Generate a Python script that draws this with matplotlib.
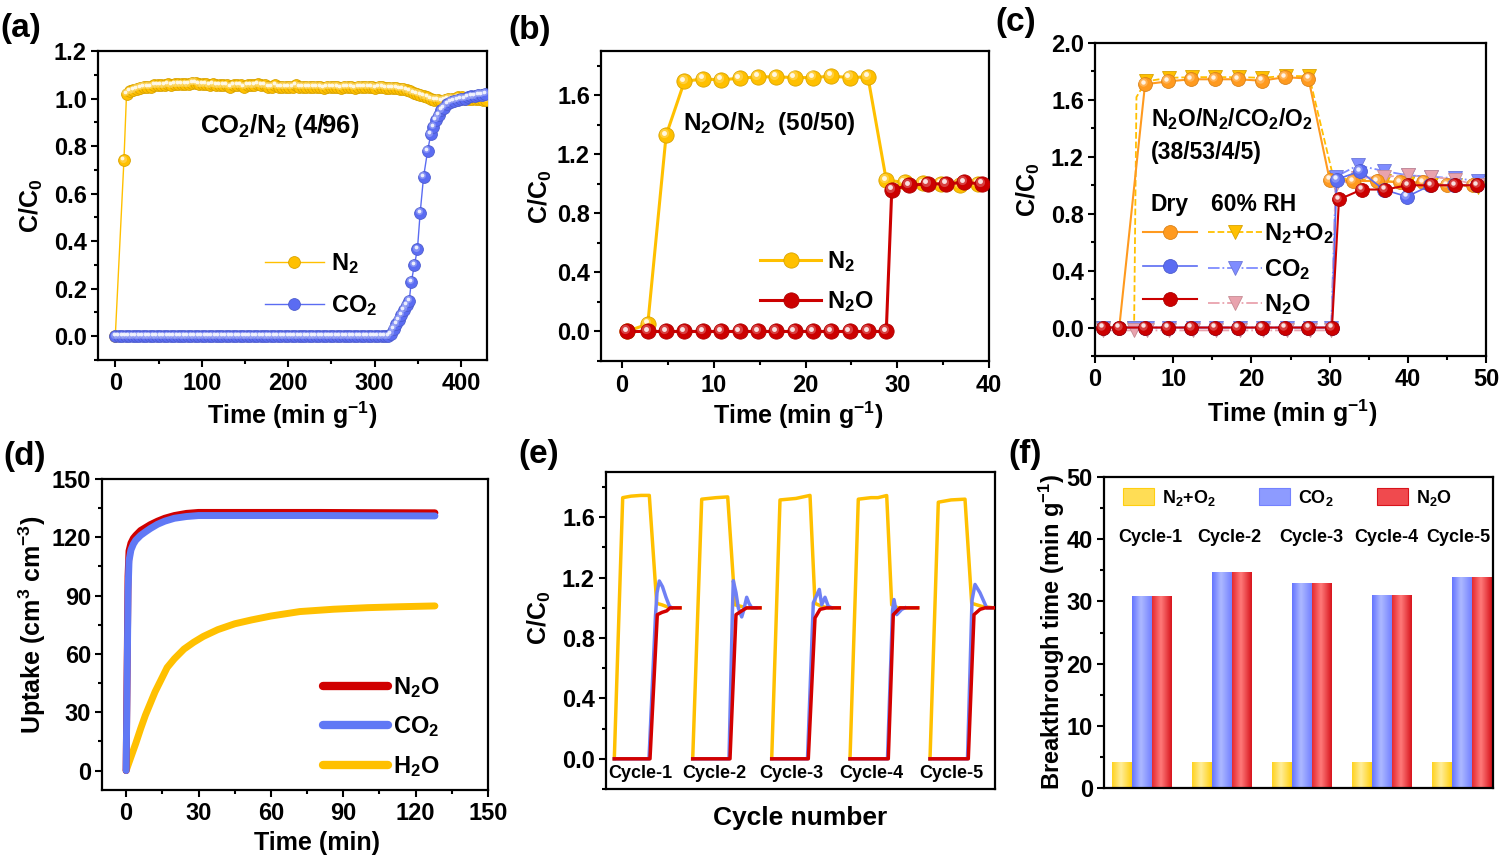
import numpy as np
import matplotlib
matplotlib.use('Agg')
import matplotlib.pyplot as plt
from matplotlib.colors import LinearSegmentedColormap, to_rgb
from matplotlib.transforms import offset_copy
from matplotlib.ticker import MultipleLocator, FormatStrFormatter
from matplotlib.patches import Patch

plt.rcParams.update({
    'font.family': ['Liberation Sans', 'DejaVu Sans'],
    'font.weight': 'bold',
    'axes.labelweight': 'bold',
    'mathtext.fontset': 'custom',
    'mathtext.rm': 'Liberation Sans:bold',
    'mathtext.bf': 'Liberation Sans:bold',
    'mathtext.it': 'Liberation Sans:bold:italic',
    'mathtext.sf': 'Liberation Sans:bold',
    'mathtext.default': 'rm',
    'axes.linewidth': 1.6,
})
nan = np.nan

# ---------------- data ----------------
# (a) CO2/N2 breakthrough
a_n2_t = [0, 10] + list(range(13, 430, 4))
a_n2 = [0.0, 0.74,
        1.02, 1.03, 1.035, 1.04, 1.045, 1.05, 1.05, 1.05, 1.055, 1.055,
        1.055, 1.055, 1.06, 1.055, 1.06, 1.06, 1.06, 1.06, 1.06, 1.065,
        1.065, 1.06, 1.06, 1.06, 1.055, 1.06, 1.055, 1.055, 1.055, 1.055,
        1.05, 1.055, 1.055, 1.055, 1.05, 1.055, 1.055, 1.055, 1.06, 1.055,
        1.055, 1.05, 1.05, 1.055, 1.05, 1.05, 1.05, 1.05, 1.05, 1.055,
        1.05, 1.05, 1.05, 1.05, 1.05, 1.05, 1.05, 1.045, 1.05, 1.05,
        1.05, 1.05, 1.045, 1.05, 1.05, 1.05, 1.045, 1.05, 1.05, 1.05,
        1.05, 1.05, 1.045, 1.05, 1.05, 1.045, 1.045, 1.045, 1.045, 1.04,
        1.04, 1.035, 1.03, 1.025, 1.02, 1.015, 1.01, 1.005, 1.0, 0.995,
        0.995, 0.99, 0.995, 1.0, 1.0, 1.0, 1.005, 1.005, 1.0, 1.0,
        1.0, 1.0, 1.0, 0.995, 0.995]
a_co2_t = list(range(0, 316, 4)) + [316, 319, 322, 325, 328, 331, 334, 337, 340, 342.5,
                                    346, 349.5, 352.7, 356.6, 361.3, 365, 368, 371, 374, 377,
                                    380, 384, 388, 392, 396, 400, 404, 408, 412, 416,
                                    420, 424, 428]
a_co2 = [0.0] * 79 + [0.0, 0.01, 0.03, 0.05, 0.07, 0.09, 0.11, 0.13, 0.15, 0.23,
                      0.30, 0.365, 0.52, 0.67, 0.78, 0.85, 0.88, 0.91, 0.93, 0.95,
                      0.96, 0.975, 0.985, 0.99, 0.995, 1.0, 1.0, 1.005, 1.01, 1.01,
                      1.015, 1.015, 1.02]

# (b) N2O/N2 breakthrough
b_n2_t = [0.5, 2.8, 4.8, 6.8, 8.8, 10.8, 12.8, 14.8, 16.8, 18.8, 20.8, 22.8, 24.8, 26.8,
          28.8, 30.8, 32.8, 34.8, 36.8, 38.8]
b_n2 = [0.0, 0.05, 1.33, 1.695, 1.71, 1.705, 1.715, 1.725, 1.725, 1.72, 1.72, 1.73, 1.72,
        1.725, 1.025, 1.01, 1.005, 1.0, 0.99, 1.0]
b_n2o_t = [0.5, 2.8, 4.8, 6.8, 8.8, 10.8, 12.8, 14.8, 16.8, 18.8, 20.8, 22.8, 24.8, 26.8,
           28.8, 29.4, 31.3, 33.3, 35.3, 37.3, 39.2]
b_n2o = [0.0] * 15 + [0.96, 0.99, 1.0, 1.0, 1.01, 1.0]

# (c) N2O/N2/CO2/O2 dry and 60% RH
c_n2o2_dry_t = [1.0, 3.1, 6.4, 9.3, 12.3, 15.3, 18.3, 21.3, 24.3, 27.3, 30.0, 33.0, 36.1,
                39.0, 42.0, 45.0, 48.3]
c_n2o2_dry = [0, 0, 1.71, 1.73, 1.745, 1.745, 1.745, 1.735, 1.76, 1.75, 1.04, 1.03, 1.03,
              1.02, 1.02, 1.0, 1.0]
c_co2_dry_t = [1.0, 3.1, 6.4, 9.3, 12.3, 15.3, 18.3, 21.3, 24.3, 27.3, 30.3, 30.9, 33.9,
               36.9, 39.9, 42.9, 45.9, 48.9]
c_co2_dry = [0] * 11 + [1.04, 1.10, 0.97, 0.92, 1.0, 1.0, 1.0]
c_n2o_dry_t = [1.0, 3.1, 6.4, 9.3, 12.3, 15.3, 18.3, 21.3, 24.3, 27.3, 30.3, 31.2, 34.1,
               37.1, 40.0, 43.0, 46.0, 48.9]
c_n2o_dry = [0] * 11 + [0.90, 0.97, 0.97, 1.0, 1.0, 1.0, 1.0]
c_n2o2_wet_t = [1.0, 5.0, 5.3, 6.5, 9.4, 12.4, 15.4, 18.4, 21.4, 24.4, 27.4, 30.5, 33.6,
                37.0, 40.0, 43.0, 46.0, 49.0]
c_n2o2_wet = [0, 0, 1.62, 1.73, 1.755, 1.76, 1.76, 1.76, 1.755, 1.77, 1.765, 1.05, 1.04, 1.03,
              1.02, 1.01, 1.0, 0.99]
c_wet_t = [1.0, 5.0, 6.6, 9.5, 12.5, 15.5, 18.5, 21.5, 24.5, 27.5, 30.2, 30.8, 33.6, 37.0,
           40.0, 43.0, 46.0, 49.0]
c_co2_wet = [0] * 11 + [1.06, 1.14, 1.10, 1.07, 1.06, 1.05, 1.03]
c_n2o_wet = [-0.02] * 11 + [1.0, 1.05, 1.06, 1.07, 1.06, 1.04, 1.0]

# (d) uptake kinetics
d_fast_t = [0, 0.4, 0.8, 1.2, 2, 3, 4, 6, 8, 10, 13, 16, 20, 25, 30, 40, 60, 80, 100, 128]
d_n2o = [0, 50, 100, 113, 117, 119.5, 121, 123.5, 125, 126.5, 128.3, 129.8, 131.2, 132.3,
         132.8, 132.8, 132.8, 132.8, 132.7, 132.6]
d_co2 = [0, 45, 92, 108, 113.5, 116.5, 118.5, 121, 122.8, 124.5, 126.7, 128.3, 129.8,
         130.7, 131.2, 131.2, 131.2, 131.2, 131.1, 131.0]
d_h2o_t = [0, 2, 4, 6, 8, 10, 12, 14, 17, 20, 24, 28, 32, 38, 45, 52, 60, 72, 86, 100, 114, 128]
d_h2o = [0, 7, 14, 21.5, 28.5, 34.5, 40.5, 45.5, 53, 57.5, 62.5, 66, 69, 72.5, 75.5, 77.5,
         79.5, 81.8, 83, 83.8, 84.3, 84.7]

# (e) five cycles (arbitrary time axis, cycles separated by gaps)
e_y_t = [8.3, 16.7, 25, 35, 43.3, 50.7, 56, 60, 64.7, 74, nan,
         86.7, 95.7, 110, 121.7, 129, 135, 140.7, 154, nan,
         165.7, 174, 190, 204, 209, 215.7, 222.3, 233.3, nan,
         244, 252.3, 265, 272, 280.7, 285.7, 292, 311.7, nan,
         324, 332.3, 345, 359, 365.7, 375.7, 388]
e_y = [0, 1.73, 1.74, 1.745, 1.745, 1.03, 1.02, 1.01, 1.0, 1.0, nan,
       0, 1.72, 1.73, 1.735, 1.02, 1.01, 1.0, 1.0, nan,
       0, 1.715, 1.725, 1.745, 1.03, 1.01, 1.0, 1.0, nan,
       0, 1.72, 1.73, 1.73, 1.744, 1.02, 1.0, 1.0, nan,
       0, 1.70, 1.715, 1.72, 1.03, 1.01, 1.0]
e_r_t = [8.3, 44, 51.3, 56, 60.7, 64, 74, nan,
         86.7, 124, 130, 135.7, 140.7, 154, nan,
         165.7, 202.3, 209, 214, 220.7, 233.3, nan,
         244, 282.3, 287.3, 294, 311.7, nan,
         324, 362.3, 368, 374, 379, 388]
e_r = [0, 0, 0.955, 0.97, 0.98, 1.0, 1.0, nan,
       0, 0, 0.955, 0.98, 1.0, 1.0, nan,
       0, 0, 0.933, 0.99, 1.0, 1.0, nan,
       0, 0, 0.955, 1.0, 1.0, nan,
       0, 0, 0.955, 0.99, 1.0, 1.0]
e_b_t = [8.3, 43, 49.5, 51, 53.3, 56.5, 60, 63.5, 66, nan,
         86.7, 123, 126.5, 127.3, 130, 132.3, 135.7, 137.5, 140.7, 143, 145.7, 150, nan,
         165.7, 201.5, 207.3, 213.3, 215.7, 219, 222.3, 226, nan,
         244, 281.5, 286.5, 288, 290.7, 295.7, 299, nan,
         324, 361.5, 366, 369, 374, 380.7, 385]
e_b = [0, 0, 0.95, 1.1, 1.178, 1.14, 1.07, 1.01, 1.0, nan,
       0, 0, 1.0, 1.18, 1.1, 1.0, 0.94, 0.98, 1.07, 1.03, 1.0, 1.0, nan,
       0, 0, 1.033, 1.122, 1.02, 1.07, 1.01, 1.0, nan,
       0, 0, 0.98, 1.055, 0.955, 0.99, 1.0, nan,
       0, 0, 1.05, 1.155, 1.1, 1.0, 1.0]
e_cycle_x = [34, 108, 185.7, 265, 345.7]

# (f) breakthrough times
cycles = ['Cycle-1', 'Cycle-2', 'Cycle-3', 'Cycle-4', 'Cycle-5']
f_n2o2 = [4.2, 4.2, 4.2, 4.2, 4.2]
f_co2 = [30.9, 34.7, 32.9, 31.0, 33.9]
f_n2o = [30.9, 34.7, 32.9, 31.0, 33.9]
f_label_x = [0.1, 1.09, 2.12, 3.06, 3.96]

# ---------------- colours ----------------
YEL = '#FFC000'
BLU = '#5B6CF2'
RED = '#CC0000'
ORA = '#FF9A1F'

W, H = 1500, 856
fig = plt.figure(figsize=(15, 8.56), dpi=100)


def px_axes(l, t, r, b):
    return fig.add_axes([l / W, 1 - b / H, (r - l) / W, (b - t) / H])


def darker(c, f=0.75):
    r, g, b = to_rgb(c)
    return (r * f, g * f, b * f)


def balls(ax, x, y, color, ms, ls='-', lw=1.2, label=None, z=3, marker='o', hl=True,
          markevery=None):
    line, = ax.plot(x, y, linestyle=ls, color=color, lw=lw, marker=marker, ms=ms,
                    mfc=color, mec=darker(color, 0.85), mew=0.6, label=label, zorder=z,
                    markevery=markevery)
    if hl:
        tr = offset_copy(ax.transData, fig=fig, x=-ms * 0.12, y=ms * 0.14, units='points')
        lt = tuple(0.55 + 0.45 * v for v in to_rgb(color))
        ax.plot(x, y, 'o', ms=ms * 0.6, mfc=lt, mec='none', alpha=0.45, transform=tr,
                zorder=z + 0.01)
        tr2 = offset_copy(ax.transData, fig=fig, x=-ms * 0.14, y=ms * 0.17, units='points')
        ax.plot(x, y, 'o', ms=ms * 0.32, mfc='white', mec='none', alpha=0.85, transform=tr2,
                zorder=z + 0.02)
    return line


def style(ax, xmaj, xmin, ymaj, ymin, yfmt='%.1f', xfmt='%d'):
    if xmaj:
        ax.xaxis.set_major_locator(MultipleLocator(xmaj))
        ax.xaxis.set_minor_locator(MultipleLocator(xmin))
        ax.xaxis.set_major_formatter(FormatStrFormatter(xfmt))
    else:
        ax.set_xticks([])
    ax.yaxis.set_major_locator(MultipleLocator(ymaj))
    ax.yaxis.set_minor_locator(MultipleLocator(ymin))
    ax.yaxis.set_major_formatter(FormatStrFormatter(yfmt))
    ax.tick_params(which='both', direction='out', top=False, right=False, width=1.5,
                   labelsize=17)
    ax.tick_params(which='major', length=5, pad=3)
    ax.tick_params(axis='x', which='major', pad=4)
    ax.tick_params(which='minor', length=3)


def labels(ax, xl, xlc, yl, ylc, xs=18, ys=18):
    if xl:
        ax.set_xlabel(xl, fontsize=xs, va='center')
        ax.xaxis.set_label_coords(*xlc)
    ax.set_ylabel(yl, fontsize=ys, va='center')
    ax.yaxis.set_label_coords(*ylc)


# ---------------- (a) ----------------
ax = px_axes(98, 51, 487, 360)
l1 = balls(ax, a_n2_t, a_n2, YEL, 8.5, lw=1.0, label='N$_2$', z=3)
l2 = balls(ax, a_co2_t, a_co2, BLU, 8.5, lw=1.0, label='CO$_2$', z=4)
ax.set_xlim(-20, 430)
ax.set_ylim(-0.1, 1.2)
style(ax, 100, 50, 0.2, 0.1)
labels(ax, r'Time (min g$^{-1}$)', (0.5, -0.178), r'C/C$_0$', (-0.17, 0.5))
ax.text(97.7, 0.886, 'CO$_2$/N$_2$ (4/96)', fontsize=18.5, ha='left', va='center')
ax.legend(handles=[l1, l2], loc='upper left', bbox_to_anchor=(0.429, 0.352), frameon=False,
          fontsize=17, handlelength=2.5, handletextpad=0.3, borderpad=0, borderaxespad=0,
          labelspacing=0.72)

# ---------------- (b) ----------------
ax = px_axes(601, 51, 989, 361)
l1 = balls(ax, b_n2_t, b_n2, YEL, 11, lw=2.2, label='N$_2$', z=3)
l2 = balls(ax, b_n2o_t, b_n2o, RED, 11, lw=2.2, label='N$_2$O', z=4)
ax.set_xlim(-2.3, 40)
ax.set_ylim(-0.2, 1.9)
style(ax, 10, 5, 0.4, 0.2)
labels(ax, r'Time (min g$^{-1}$)', (0.508, -0.174), r'C/C$_0$', (-0.157, 0.53))
ax.text(6.6, 1.41, 'N$_2$O/N$_2$  (50/50)', fontsize=17.5, ha='left', va='center')
ax.legend(handles=[l1, l2], loc='upper left', bbox_to_anchor=(0.41, 0.36), frameon=False,
          fontsize=17, handlelength=2.6, handletextpad=0.25, borderpad=0, borderaxespad=0,
          labelspacing=0.62)

# ---------------- (c) ----------------
ax = px_axes(1095, 43, 1486, 356)
w1 = balls(ax, c_n2o2_wet_t, c_n2o2_wet, YEL, 10, ls='--', lw=1.3, marker='v', z=2, hl=False,
           markevery=[0, 1] + list(range(3, 18)))
w2 = balls(ax, c_wet_t, c_co2_wet, '#7F8CFF', 10, ls='-.', lw=1.3, marker='v', z=2.1, hl=False)
w3 = balls(ax, c_wet_t, c_n2o_wet, '#E9A3AE', 10, ls='-.', lw=1.3, marker='v', z=2.2, hl=False)
d1 = balls(ax, c_n2o2_dry_t, c_n2o2_dry, ORA, 10, lw=1.5, z=3)
d2 = balls(ax, c_co2_dry_t, c_co2_dry, BLU, 10, lw=1.2, z=3.5)
d3 = balls(ax, c_n2o_dry_t, c_n2o_dry, RED, 10, lw=1.5, z=4)
ax.set_xlim(0, 50)
ax.set_ylim(-0.2, 2.0)
style(ax, 10, 5, 0.4, 0.2)
labels(ax, r'Time (min g$^{-1}$)', (0.504, -0.182), r'C/C$_0$', (-0.171, 0.53))
ax.text(7.16, 1.467, 'N$_2$O/N$_2$/CO$_2$/O$_2$', fontsize=16.5, ha='left', va='center')
ax.text(7.16, 1.228, '(38/53/4/5)', fontsize=16.5, ha='left', va='center')
ax.text(7.16, 0.863, 'Dry', fontsize=16.5, ha='left', va='center')
ax.text(14.8, 0.863, '60% RH', fontsize=16.5, ha='left', va='center')
ax.legend(handles=[d1, d2, d3, w1, w2, w3],
          labels=['', '', '', 'N$_2$+O$_2$', 'CO$_2$', 'N$_2$O'], ncol=2,
          loc='upper left', bbox_to_anchor=(0.123, 0.43), frameon=False, fontsize=17,
          handlelength=2.3, handletextpad=0.05, columnspacing=0.4, borderpad=0,
          borderaxespad=0, labelspacing=0.45)

# ---------------- (d) ----------------
ax = px_axes(102, 479, 488, 790)
ax.plot(d_h2o_t, d_h2o, color=YEL, lw=5, solid_capstyle='round', label='H$_2$O', zorder=2)
ax.plot(d_fast_t, d_n2o, color='#D00000', lw=5, solid_capstyle='round', label='N$_2$O', zorder=3)
ax.plot(d_fast_t, d_co2, color='#6078F5', lw=5, solid_capstyle='round', label='CO$_2$', zorder=4)
ax.set_xlim(-10, 150)
ax.set_ylim(-10, 150)
style(ax, 30, 15, 30, 15, yfmt='%d')
labels(ax, 'Time (min)', (0.557, -0.17), r'Uptake (cm$^3$ cm$^{-3}$)', (-0.181, 0.53))
h, lb = ax.get_legend_handles_labels()
order = [1, 2, 0]
leg = ax.legend([h[i] for i in order], [lb[i] for i in order], loc='upper left',
                bbox_to_anchor=(0.573, 0.37), frameon=False, fontsize=17, handlelength=2.75,
                handletextpad=0.2, borderpad=0, borderaxespad=0, labelspacing=0.62)
for ln in leg.get_lines():
    ln.set_linewidth(6)

# ---------------- (e) ----------------
ax = px_axes(606, 472, 995, 789)
ax.plot(e_y_t, e_y, color=YEL, lw=2.5, zorder=2)
ax.plot(e_b_t, e_b, color='#6F80F4', lw=2.5, zorder=3)
ax.plot(e_r_t, e_r, color='#D30000', lw=2.5, zorder=4)
for xc, name in zip(e_cycle_x, cycles):
    ax.text(xc, -0.10, name, fontsize=13, ha='center', va='center')
ax.set_xlim(0, 389)
ax.set_ylim(-0.2, 1.9)
style(ax, None, None, 0.4, 0.2)
labels(ax, 'Cycle number', (0.5, -0.091), r'C/C$_0$', (-0.17, 0.54), xs=19)

# ---------------- (f) ----------------
ax = px_axes(1104, 477, 1493, 788)
xg = np.arange(len(cycles))
bw = 0.25
series = [(f_n2o2, -bw, ['#FFD21F', '#FFEE9A', '#FFCF10'], '#FFDD55', 'N$_2$+O$_2$'),
          (f_co2, 0.0, ['#6474FF', '#AEB9FF', '#7482FF'], '#8D9BFF', 'CO$_2$'),
          (f_n2o, bw, ['#E42A30', '#FF7A7A', '#D8141C'], '#F04A4E', 'N$_2$O')]
grad = np.linspace(0, 1, 64).reshape(1, -1)
handles = []
for vals, off, cols, solid, lab in series:
    bars = ax.bar(xg + off, vals, width=bw, color='none', edgecolor='none', zorder=2)
    cmap = LinearSegmentedColormap.from_list('g', [(0, cols[0]), (0.45, cols[1]), (1, cols[2])])
    for b in bars:
        x0, y0 = b.get_xy()
        im = ax.imshow(grad, extent=[x0, x0 + b.get_width(), y0, y0 + b.get_height()],
                       cmap=cmap, aspect='auto', interpolation='bicubic', zorder=2)
        im.set_clip_path(b)
    handles.append(Patch(facecolor=solid, edgecolor=cols[2], linewidth=0.8, label=lab))
for xc, name in zip(f_label_x, cycles):
    ax.text(xc, 40.2, name, fontsize=13, ha='center', va='center')
ax.set_xlim(-0.475, 4.39)
ax.set_ylim(0, 50)
style(ax, None, None, 10, 5, yfmt='%d')
labels(ax, None, None, r'Breakthrough time (min g$^{-1}$)', (-0.134, 0.5), ys=17)
ax.legend(handles=handles, ncol=3, loc='upper left', bbox_to_anchor=(0.049, 0.965),
          frameon=False, fontsize=13, handlelength=1.7, handleheight=1.05,
          handletextpad=0.45, columnspacing=2.4, borderpad=0, borderaxespad=0)

# ---------------- panel letters ----------------
for x, y, t in [(0, 28, '(a)'), (508, 31, '(b)'), (995, 22, '(c)'),
                (3, 457, '(d)'), (518, 455, '(e)'), (1008, 455, '(f)')]:
    fig.text(x / W, 1 - y / H, t, fontsize=24, weight='bold', ha='left', va='center')

fig.savefig('out.png', dpi=100)
